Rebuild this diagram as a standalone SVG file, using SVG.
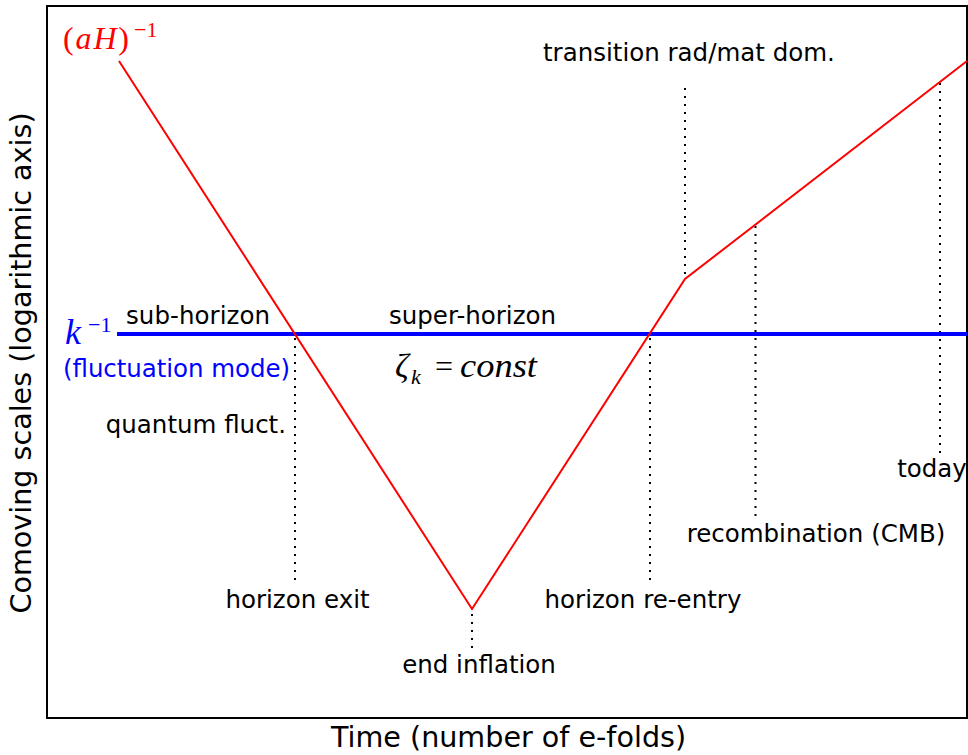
<svg xmlns="http://www.w3.org/2000/svg" width="968" height="755" viewBox="0 0 968 755">
<style>
.lbl{font-family:"DejaVu Sans",sans-serif;font-size:24.5px;fill:#000}
.ax{font-family:"DejaVu Sans",sans-serif;font-size:28.6px;fill:#000}
.m{font-family:"Liberation Serif","DejaVu Serif",serif;font-style:italic}
.up{font-style:normal}
.dot{stroke:#000;stroke-width:2;stroke-dasharray:2,6;fill:none}
</style>
<rect x="0" y="0" width="968" height="755" fill="#fff"/>
<g id="frame"><rect x="47" y="6" width="920" height="712" fill="none" stroke="#000" stroke-width="2"/></g>
<g id="connectors">
<line class="dot" x1="295" y1="338" x2="295" y2="586"/>
<line class="dot" x1="472" y1="614" x2="472" y2="652"/>
<line class="dot" x1="650" y1="338" x2="650" y2="586"/>
<line class="dot" x1="685" y1="88" x2="685" y2="278"/>
<line class="dot" x1="755.5" y1="226" x2="755.5" y2="516"/>
<line class="dot" x1="940" y1="83" x2="940" y2="456"/>
<line id="k-mode" x1="117" y1="334" x2="967" y2="334" stroke="#0000ff" stroke-width="4"/>
<polyline id="hubble" points="119,61 472,609 685,279 967,61" fill="none" stroke="#ff0000" stroke-width="2"/>
</g>
<g id="label-aH" fill="#ff0000" class="m">
<text x="63" y="49" font-size="32" textLength="66"><tspan class="up">(</tspan>aH<tspan class="up">)</tspan></text>
<text x="134" y="37" font-size="22" class="up">−1</text>
</g>
<g id="label-k" fill="#0000ff">
<text class="m" x="65" y="344" font-size="36">k</text>
<text class="m up" x="88" y="332" font-size="22">−1</text>
<text class="lbl" x="63" y="377" style="fill:#0000ff" textLength="227">(fluctuation mode)</text>
</g>
<g id="label-zeta" class="m">
<text x="395" y="377" font-size="34">ζ</text>
<text x="411" y="384" font-size="22">k</text>
<text x="435" y="377" font-size="32" class="up">=</text>
<text x="460" y="377" font-size="34" textLength="77" lengthAdjust="spacingAndGlyphs">const</text>
</g>
<g id="label-sub"><text class="lbl" x="126" y="324" textLength="144">sub-horizon</text></g>
<g id="label-super"><text class="lbl" x="472.5" y="324" text-anchor="middle">super-horizon</text></g>
<g id="label-quantum"><text class="lbl" x="286" y="433" text-anchor="end">quantum fluct.</text></g>
<g id="label-exit"><text class="lbl" x="297.5" y="608" text-anchor="middle">horizon exit</text></g>
<g id="label-end"><text class="lbl" x="479" y="673" text-anchor="middle">end inflation</text></g>
<g id="label-reentry"><text class="lbl" x="643" y="608" text-anchor="middle">horizon re-entry</text></g>
<g id="label-transition"><text class="lbl" x="543" y="61">transition rad/mat dom.</text></g>
<g id="label-recomb"><text class="lbl" x="816" y="542" text-anchor="middle">recombination (CMB)</text></g>
<g id="label-today"><text class="lbl" x="932" y="477" text-anchor="middle">today</text></g>
<g id="axis-labels">
<text class="ax" x="508.5" y="747" text-anchor="middle">Time (number of e-folds)</text>
<text class="ax" transform="translate(31,363) rotate(-90)" x="0" y="0" text-anchor="middle">Comoving scales (logarithmic axis)</text>
</g>
</svg>
